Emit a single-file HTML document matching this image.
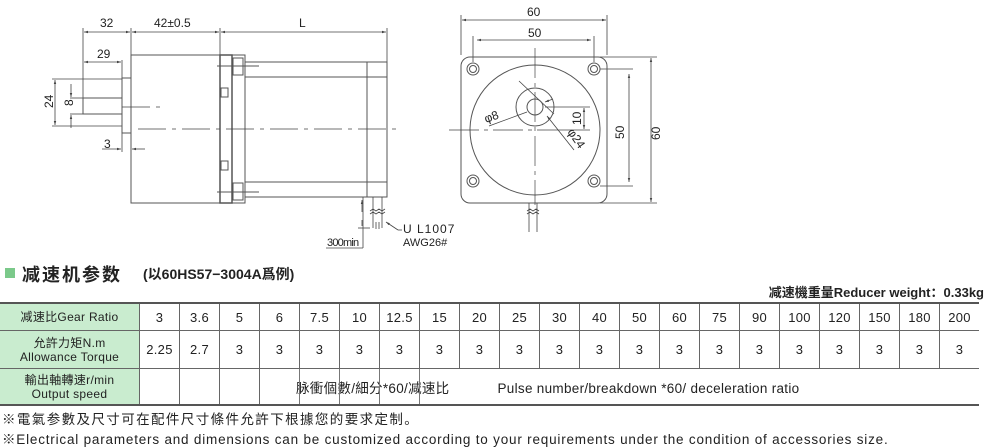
<!DOCTYPE html>
<html><head><meta charset="utf-8"><style>
body{margin:0;width:985px;height:448px;overflow:hidden;background:#fff;font-family:"Liberation Sans","Noto Sans CJK SC",sans-serif;position:relative}
svg{position:absolute;left:0;top:0}
.t{position:absolute;white-space:nowrap;color:#222}
table{position:absolute;left:0;top:302px;border-collapse:collapse;font-size:13px;color:#222}
td{border:1px solid #666;height:26px;width:39px;text-align:center;padding:0;letter-spacing:.3px}
td.h{width:139px;background:#c9eccf;font-size:12px;line-height:14px;border-left:none}
tr{border-top:2px solid #555}
.v{position:absolute;top:369px;width:1px;height:35px;background:#777}
</style></head><body>
<svg width="985" height="260" viewBox="0 0 985 260" fill="none" stroke="#444" stroke-width="1" font-family="Liberation Sans, sans-serif">
<defs><marker id="a" markerWidth="6" markerHeight="6" refX="5" refY="3" orient="auto-start-reverse"><path d="M0,1.5L5,3L0,4.5z" fill="#444" stroke="none"/></marker></defs>
<g stroke-width="0.8">
<line x1="83" y1="28" x2="83" y2="114"/><line x1="131" y1="28" x2="131" y2="55"/><line x1="220" y1="28" x2="220" y2="55"/><line x1="387" y1="28" x2="387" y2="62"/>
<line x1="84" y1="32" x2="130" y2="32" marker-start="url(#a)" marker-end="url(#a)"/>
<line x1="132" y1="32" x2="219" y2="32" marker-start="url(#a)" marker-end="url(#a)"/>
<line x1="221" y1="32" x2="386" y2="32" marker-start="url(#a)" marker-end="url(#a)"/>
<line x1="122" y1="60" x2="122" y2="78"/>
<line x1="84" y1="62" x2="121" y2="62" marker-start="url(#a)" marker-end="url(#a)"/>
<line x1="52" y1="79" x2="122" y2="79"/><line x1="52" y1="126" x2="122" y2="126"/>
<line x1="55" y1="80" x2="55" y2="125" marker-start="url(#a)" marker-end="url(#a)"/>
<line x1="70" y1="98" x2="84" y2="98"/><line x1="70" y1="114" x2="84" y2="114"/>
<line x1="71" y1="84" x2="71" y2="97" marker-end="url(#a)"/><line x1="71" y1="128" x2="71" y2="115" marker-end="url(#a)"/>
<line x1="122" y1="133" x2="122" y2="152"/><line x1="131" y1="133" x2="131" y2="152"/>
<line x1="102" y1="149" x2="121" y2="149" marker-end="url(#a)"/><line x1="145" y1="149" x2="132" y2="149" marker-end="url(#a)"/>
</g>
<g stroke="#555">
<rect x="83" y="98" width="39" height="16"/>
<rect x="122" y="78" width="9" height="55"/>
<rect x="131" y="55" width="89" height="148"/>
<rect x="220" y="55" width="12" height="148" stroke-width="1.5"/>
<rect x="232" y="55" width="13" height="148"/>
<rect x="245" y="62" width="142" height="135"/>
<line x1="245" y1="77" x2="387" y2="77"/><line x1="245" y1="182" x2="387" y2="182"/>
<line x1="367" y1="62" x2="367" y2="197"/>
<rect x="233" y="58" width="10" height="17"/><rect x="233" y="183" width="10" height="17"/>
<line x1="217" y1="66" x2="259" y2="66"/><line x1="217" y1="192" x2="259" y2="192"/>
<rect x="221" y="88" width="7" height="9"/><rect x="221" y="161" width="7" height="9"/>
</g>
<g stroke-dasharray="28 6 4 6" stroke-width="0.7">
<line x1="138" y1="129" x2="398" y2="129"/><line x1="122" y1="107" x2="162" y2="107"/>
</g>
<g stroke-width="0.8">
<line x1="373" y1="197" x2="373" y2="228"/><line x1="382" y1="197" x2="382" y2="228"/>
<path d="M370,211l3,-2l3,2l3,-2l3,2l3,-2" /><path d="M370,214l3,-2l3,2l3,-2l3,2l3,-2"/>
<line x1="376" y1="222" x2="376" y2="229"/><line x1="379" y1="222" x2="379" y2="229"/>
<line x1="363" y1="197" x2="363" y2="248"/>
<line x1="362" y1="212" x2="362" y2="200" marker-end="url(#a)"/><line x1="362" y1="220" x2="362" y2="226"/>
<line x1="358" y1="228" x2="370" y2="228"/>
<line x1="326" y1="248" x2="363" y2="248"/>
<line x1="398" y1="230" x2="386" y2="222" marker-end="url(#a)"/><line x1="398" y1="230" x2="402" y2="230"/>
</g>
<g fill="#222" stroke="none" font-size="12">
<text x="100" y="27">32</text><text x="154" y="27">42±0.5</text><text x="299" y="27">L</text>
<text x="97" y="58">29</text><text x="104" y="148">3</text>
<text x="327" y="246" font-size="11" letter-spacing="-0.8">300min</text>
<text x="403" y="233" font-size="12" letter-spacing="1">U L1007</text><text x="403" y="246" font-size="11">AWG26#</text>
<text transform="translate(53,108) rotate(-90)">24</text>
<text transform="translate(73,106) rotate(-90)">8</text>
</g>
<g stroke-width="0.8">
<line x1="461" y1="15" x2="461" y2="55"/><line x1="607" y1="15" x2="607" y2="55"/>
<line x1="462" y1="20" x2="606" y2="20" marker-start="url(#a)" marker-end="url(#a)"/>
<line x1="473" y1="36" x2="473" y2="62"/><line x1="594" y1="36" x2="594" y2="62"/>
<line x1="477" y1="40" x2="591" y2="40" marker-start="url(#a)" marker-end="url(#a)"/>
<line x1="600" y1="57" x2="657" y2="57"/><line x1="600" y1="203" x2="657" y2="203"/>
<line x1="651" y1="58" x2="651" y2="202" marker-start="url(#a)" marker-end="url(#a)"/>
<line x1="600" y1="69" x2="633" y2="69"/><line x1="600" y1="186" x2="633" y2="186"/>
<line x1="629" y1="74" x2="629" y2="182" marker-start="url(#a)" marker-end="url(#a)"/>
<line x1="545" y1="107" x2="590" y2="107"/><line x1="545" y1="130" x2="590" y2="130"/>
<line x1="584" y1="108" x2="584" y2="129" marker-start="url(#a)" marker-end="url(#a)"/>
<line x1="519" y1="81" x2="554" y2="114"/><path d="M489,126L527,112"/><line x1="553" y1="99" x2="545" y2="102" marker-end="url(#a)"/>
<line x1="547" y1="116" x2="574" y2="150" marker-start="url(#a)"/>
</g>
<g stroke="#555">
<rect x="461" y="57" width="146" height="146" rx="9"/>
<circle cx="535" cy="130" r="65"/><circle cx="535" cy="107" r="19"/><circle cx="535" cy="107" r="8"/>
<g id="h"><circle cx="473" cy="69" r="6"/><circle cx="473" cy="69" r="3.5"/></g>
<use href="#h" x="121"/><use href="#h" y="112"/><use href="#h" x="121" y="112"/>
</g>
<g stroke-dasharray="30 5 4 5" stroke-width="0.7">
<line x1="449" y1="130" x2="545" y2="130"/><line x1="535" y1="48" x2="535" y2="205"/>
</g>
<g stroke-width="0.8"><line x1="529" y1="203" x2="529" y2="232"/><line x1="537" y1="203" x2="537" y2="232"/>
<path d="M527,211l3,-2l3,2l3,-2l3,2"/><path d="M527,214l3,-2l3,2l3,-2l3,2"/></g>
<g fill="#222" stroke="none" font-size="12">
<text x="527" y="16">60</text><text x="528" y="37">50</text>
<text transform="translate(624,139) rotate(-90)">50</text>
<text transform="translate(660,140) rotate(-90)">60</text>
<text transform="translate(581,125) rotate(-90)">10</text>
<text transform="translate(486,123) rotate(-20)">φ8</text>
<text transform="translate(567,132) rotate(55)">φ24</text>
</g>
</svg>
<div style="position:absolute;left:5px;top:268px;width:10px;height:10px;background:#7bc98a"></div>
<div class="t" style="left:22px;top:261px;font-size:18px;font-weight:bold;letter-spacing:2px">减速机参数</div>
<div class="t" style="left:143px;top:264px;font-size:14px;font-weight:bold">(以60HS57−3004A爲例)</div>
<div class="t" style="right:1px;top:282px;font-size:13px;font-weight:bold">减速機重量Reducer weight：0.33kg</div>
<table>
<tr><td class="h">减速比Gear Ratio</td><td>3</td><td>3.6</td><td>5</td><td>6</td><td>7.5</td><td>10</td><td>12.5</td><td>15</td><td>20</td><td>25</td><td>30</td><td>40</td><td>50</td><td>60</td><td>75</td><td>90</td><td>100</td><td>120</td><td>150</td><td>180</td><td style="border-right:none">200</td></tr>
<tr style="height:38px;border-top:1px solid #666"><td class="h" style="height:37px">允許力矩N.m<br>Allowance Torque</td><td>2.25</td><td>2.7</td><td>3</td><td>3</td><td>3</td><td>3</td><td>3</td><td>3</td><td>3</td><td>3</td><td>3</td><td>3</td><td>3</td><td>3</td><td>3</td><td>3</td><td>3</td><td>3</td><td>3</td><td>3</td><td style="border-right:none">3</td></tr>
<tr style="height:36px;border-top:1px solid #666;border-bottom:2px solid #555"><td class="h" style="height:35px">輸出軸轉速r/min<br>Output speed</td><td></td><td></td><td></td><td colspan="18" style="border-right:none;text-align:left;padding-left:36px;font-size:13.5px">脉衝個數/細分*60/减速比<span style="display:inline-block;width:48px"></span>Pulse number/breakdown *60/ deceleration ratio</td></tr>
</table>
<div class="v" style="left:299px"></div><div class="v" style="left:339px"></div><div class="v" style="left:379px"></div><div class="v" style="left:419px"></div>
<div class="t" style="left:2px;top:408px;font-size:13.5px;letter-spacing:1.4px">※電氣参數及尺寸可在配件尺寸條件允許下根據您的要求定制。</div>
<div class="t" style="left:2px;top:428px;font-size:13.5px;letter-spacing:.8px">※Electrical parameters and dimensions can be customized according to your requirements under the condition of accessories size.</div>
</body></html>
